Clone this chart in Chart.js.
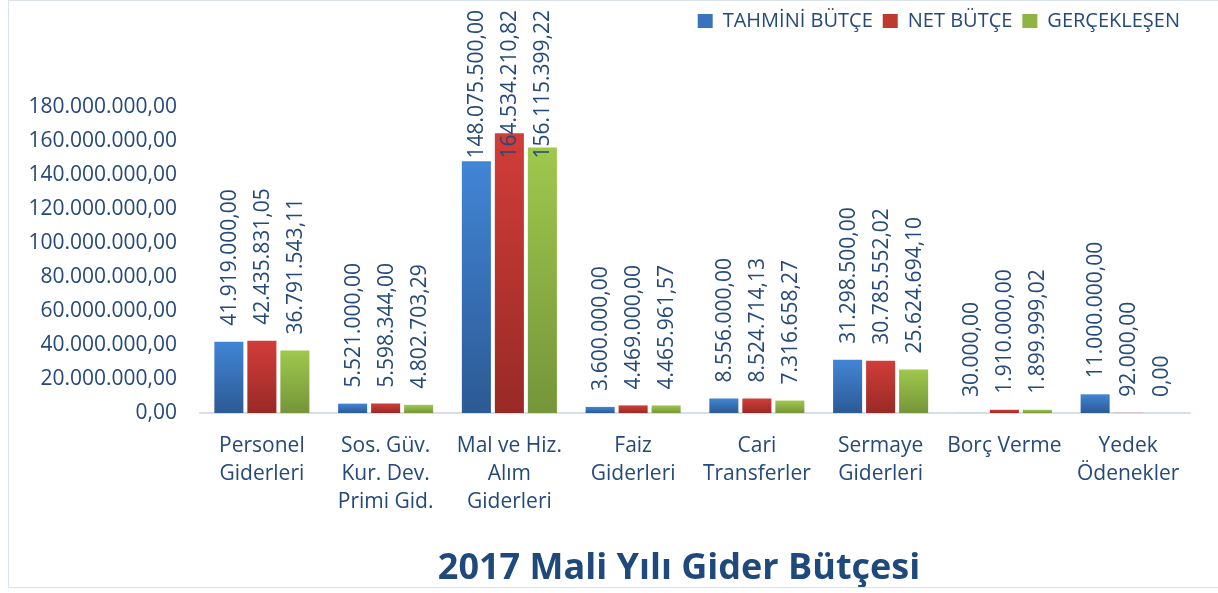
<!DOCTYPE html>
<html>
<head>
<meta charset="utf-8">
<script src="https://cdn.jsdelivr.net/npm/chart.js@4.4.1/dist/chart.umd.min.js"></script>
<style>
  html, body { margin: 0; padding: 0; background: #fff; }
  #wrap { position: relative; width: 1218px; height: 593px; }
  #frame { position: absolute; left: 8px; top: 0; width: 1220px; height: 588px; border: 1px solid #d9e3f0; box-sizing: border-box; pointer-events: none; }
  canvas { position: absolute; left: 0; top: 0; }
</style>
</head>
<body>
<div id="wrap">
  <canvas id="chart" width="1218" height="593"></canvas>
  <div id="frame"></div>
</div>
<script>
const categories = [
  ["Personel", "Giderleri"],
  ["Sos. Güv.", "Kur. Dev.", "Primi Gid."],
  ["Mal ve Hiz.", "Alım", "Giderleri"],
  ["Faiz", "Giderleri"],
  ["Cari", "Transferler"],
  ["Sermaye", "Giderleri"],
  "Borç Verme",
  ["Yedek", "Ödenekler"],
];
const seriesNames = ["TAHMİNİ BÜTÇE", "NET BÜTÇE", "GERÇEKLEŞEN"];
const tahminiValues = [41919000.0, 5521000.0, 148075500.0, 3600000.0, 8556000.0, 31298500.0, 30000.0, 11000000.0];
const netValues = [42435831.05, 5598344.0, 164534210.82, 4469000.0, 8524714.13, 30785552.02, 1910000.0, 92000.0];
const gerceklesenValues = [36791543.11, 4802703.29, 156115399.22, 4465961.57, 7316658.27, 25624694.1, 1899999.02, 0.0];
const axisMax = 180000000;
const axisStep = 20000000;
const chartTitle = "2017 Mali Yılı Gider Bütçesi";

const textColor = "#24497a";
const palette = [
  { top: "#4285d6", bottom: "#2c5a94", solid: "#3a73bd" },
  { top: "#d23d39", bottom: "#982a26", solid: "#c0392f" },
  { top: "#9fc84c", bottom: "#75953a", solid: "#8fb443" },
];

const formatTr = (value) => {
  const fixed = Math.abs(value).toFixed(2);
  const [intPart, decPart] = fixed.split(".");
  const grouped = intPart.replace(/\B(?=(\d{3})+(?!\d))/g, ".");
  return `${value < 0 ? "-" : ""}${grouped},${decPart}`;
};

const barGradient = (index) => (context) => {
  const colors = palette[index];
  const chart = context.chart;
  if (!chart.chartArea || context.dataIndex === undefined || context.parsed === undefined) return colors.solid;
  const yScale = chart.scales.y;
  const top = yScale.getPixelForValue(context.parsed.y);
  const base = yScale.getPixelForValue(0);
  if (base - top < 1) return colors.solid;
  const g = chart.ctx.createLinearGradient(0, top, 0, base);
  g.addColorStop(0, colors.top);
  g.addColorStop(1, colors.bottom);
  return g;
};

// rotated value labels above each bar, kept inside the top of the chart
const valueLabels = {
  id: "valueLabels",
  afterDatasetsDraw(chart) {
    const { ctx } = chart;
    ctx.save();
    ctx.font = "21px 'Open Sans'";
    ctx.fillStyle = textColor;
    ctx.textAlign = "left";
    ctx.textBaseline = "middle";
    chart.data.datasets.forEach((dataset, di) => {
      chart.getDatasetMeta(di).data.forEach((bar, i) => {
        const text = formatTr(dataset.data[i]);
        const w = ctx.measureText(text).width;
        let y = bar.y - 16;
        if (y - w < 10) y = 10 + w;
        ctx.save();
        ctx.translate(bar.x + 1, y);
        ctx.rotate(-Math.PI / 2);
        ctx.fillText(text, 0, 0);
        ctx.restore();
      });
    });
    ctx.restore();
  },
};

const legendSpacing = {
  id: "legendSpacing",
  beforeInit(chart) {
    const fit = chart.legend.fit;
    chart.legend.fit = function () {
      fit.call(this);
      this.height += 66;
    };
  },
  afterLayout(chart) {
    // title sits a bit right of the canvas centre
    if (chart.titleBlock) {
      chart.titleBlock.left += 84;
      chart.titleBlock.right += 84;
    }
  },
};

Chart.defaults.font.family = "'Open Sans'";
Chart.defaults.color = textColor;

const valueSeries = [tahminiValues, netValues, gerceklesenValues];

new Chart(document.getElementById("chart"), {
  type: "bar",
  data: {
    labels: categories,
    datasets: valueSeries.map((values, index) => ({
      label: seriesNames[index],
      data: values,
      backgroundColor: barGradient(index),
      borderWidth: 0,
      categoryPercentage: 0.8,
      barPercentage: 0.88,
    })),
  },
  options: {
    responsive: false,
    animation: false,
    layout: { padding: { top: 1, right: 28, bottom: 3, left: 0 } },
    plugins: {
      legend: {
        position: "top",
        align: "end",
        labels: {
          font: { size: 20 },
          color: textColor,
          boxWidth: 15,
          boxHeight: 14,
          padding: 10,
          generateLabels: (chart) =>
            chart.data.datasets.map((ds, i) => ({
              text: ds.label,
              fillStyle: palette[i].solid,
              strokeStyle: palette[i].solid,
              lineWidth: 0,
              fontColor: textColor,
              datasetIndex: i,
            })),
        },
      },
      title: {
        display: true,
        position: "bottom",
        text: chartTitle,
        color: "#1f487b",
        font: { size: 36, weight: "bold" },
        padding: { top: 12, bottom: 0 },
      },
      tooltip: { enabled: false },
    },
    scales: {
      x: {
        grid: { display: false, drawTicks: false },
        border: { display: true, color: "#d5dfec", width: 2 },
        ticks: { font: { size: 21, lineHeight: 1.33 }, color: textColor, padding: 19, maxRotation: 0, autoSkip: false },
      },
      y: {
        min: 0,
        max: axisMax,
        grid: { display: false, drawTicks: false },
        border: { display: false },
        ticks: {
          stepSize: axisStep,
          font: { size: 21 },
          color: textColor,
          padding: 23,
          callback: (value) => formatTr(value),
        },
        afterFit: (scale) => {
          scale.width = 200;
        },
      },
    },
  },
  plugins: [legendSpacing, valueLabels],
});
</script>
</body>
</html>
